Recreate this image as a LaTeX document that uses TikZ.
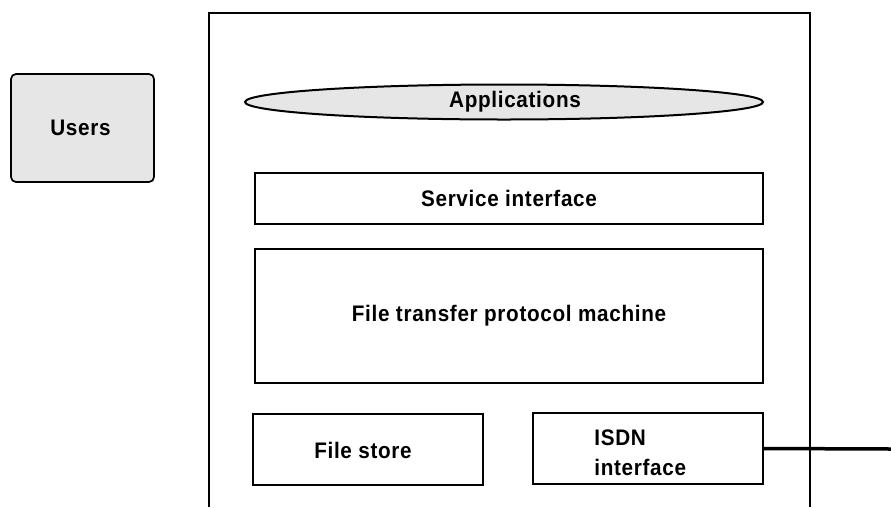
\documentclass[tikz,border=0pt]{standalone}
\usepackage{fontspec}
\setmainfont{Liberation Sans}[FakeStretch=0.92, LetterSpace=3]
\usetikzlibrary{shapes.geometric,calc}
\definecolor{lightfill}{HTML}{E6E6E6}
\tikzset{
  box/.style={draw=black, line width=1.7pt, minimum width=#1, inner sep=0pt},
  txt/.style={font=\fontsize{22.5}{30}\selectfont\bfseries, inner sep=0pt, align=left}
}
\begin{document}
\begin{tikzpicture}[x=1pt,y=-1pt]
\useasboundingbox (0,0) rectangle (891,507);
% outer frame (open at bottom)
\draw[line width=1.6pt] (209,507) -- (209,13) -- (810,13) -- (810,507);
\node[box=143pt, minimum height=108pt, rounded corners=5pt, fill=lightfill] (users) at (82.5,128) {};
\node[box=518pt, minimum height=35pt, ellipse, fill=lightfill, line width=2pt] (apps) at (504,102) {};
\node[box=508pt, minimum height=51pt] (svc) at (509,198.5) {};
\node[box=508pt, minimum height=134pt] (ftp) at (509,316) {};
\node[box=230pt, minimum height=71pt] (store) at (368,449.5) {};
\node[box=230pt, minimum height=71pt] (isdn) at (648,448.5) {};
% labels
\node[txt] (userslbl) at ($(users.center)+(-2,0)$) {Users};
\node[txt] (appslbl) at ($(apps.center)+(11,0)$) {Applications};
\node[txt] (svclbl) at (svc.center) {Service interface};
\node[txt] (ftplbl) at (ftp.center) {File transfer protocol machine};
\node[txt] (storelbl) at ($(store.center)+(-5,1)$) {File store};
\node[txt, anchor=west] (isdnlbl) at ($(isdn.west)+(62,4)$) {ISDN\\interface};
\coordinate (ext) at (891,449);
\draw[line width=3.5pt] (isdn.east) -- (ext);
\end{tikzpicture}
\end{document}
